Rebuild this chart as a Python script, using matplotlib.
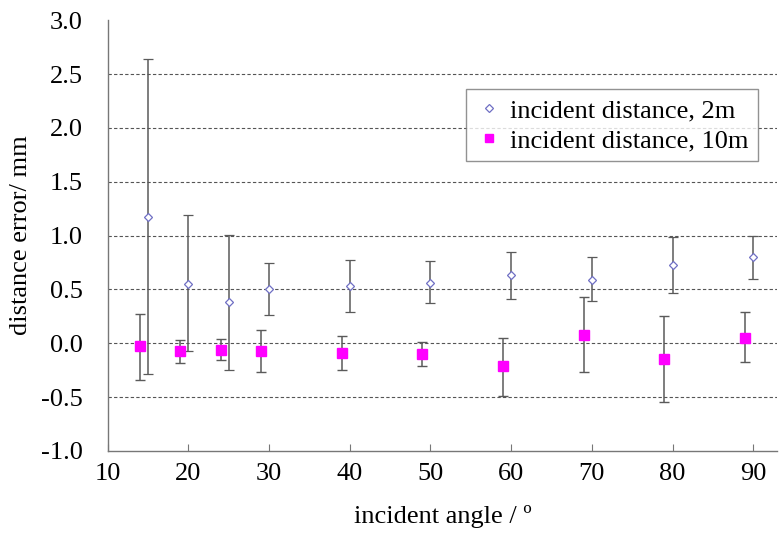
import matplotlib.pyplot as plt

# 2 m series
angulo_2m = [15, 20, 25, 30, 40, 50, 60, 70, 80, 90]
erro_2m = [1.17, 0.55, 0.38, 0.50, 0.53, 0.56, 0.63, 0.59, 0.73, 0.80]
topo_2m = [2.64, 1.19, 1.01, 0.75, 0.77, 0.76, 0.85, 0.80, 0.99, 1.00]
base_2m = [-0.29, -0.07, -0.25, 0.26, 0.29, 0.37, 0.41, 0.39, 0.47, 0.60]

# 10 m series
angulo_10m = [14, 19, 24, 29, 39, 49, 59, 69, 79, 89]
erro_10m = [-0.03, -0.07, -0.06, -0.07, -0.09, -0.10, -0.21, 0.08, -0.15, 0.05]
topo_10m = [0.27, 0.03, 0.04, 0.12, 0.07, 0.01, 0.05, 0.43, 0.25, 0.29]
base_10m = [-0.34, -0.18, -0.16, -0.27, -0.25, -0.21, -0.49, -0.27, -0.55, -0.17]

yticks = [-1.0, -0.5, 0.0, 0.5, 1.0, 1.5, 2.0, 2.5, 3.0]
xticks = [10, 20, 30, 40, 50, 60, 70, 80, 90]

plt.rcParams['font.family'] = ['Liberation Serif', 'DejaVu Serif']


def barras(valores, topo, base):
    inf = [v - b for v, b in zip(valores, base)]
    sup = [t - v for v, t in zip(valores, topo)]
    return [inf, sup]


fig = plt.figure(figsize=(7.79, 5.33), dpi=100)
ax = fig.add_axes([0.138, 0.154, 0.86, 0.808])

c2 = ax.errorbar(angulo_2m, erro_2m, yerr=barras(erro_2m, topo_2m, base_2m),
                 fmt='D', ms=4.5, mfc='white', mec='#6f6fc4', mew=0.9,
                 ecolor='#5a5a5a', elinewidth=1.1, capsize=3.5, capthick=1.0,
                 zorder=3)
c10 = ax.errorbar(angulo_10m, erro_10m, yerr=barras(erro_10m, topo_10m, base_10m),
                  fmt='s', ms=7, mfc='#ff00ff', mec='#ff00ff',
                  ecolor='#5a5a5a', elinewidth=1.1, capsize=3.5, capthick=1.0,
                  zorder=3)

ax.set_xlim(10, 93)
ax.set_ylim(-1.0, 3.0)
ax.set_xticks(xticks)
ax.set_yticks(yticks)
ax.set_yticklabels([f'{v:.1f}' for v in yticks])
ax.tick_params(axis='both', labelsize=19, direction='in', length=5, color='#777777')
ax.tick_params(axis='x', pad=9)
ax.tick_params(axis='y', length=0, pad=18)

ax.grid(axis='y', linestyle=(0, (3, 2)), color='#555555', linewidth=0.8)
ax.get_ygridlines()[-1].set_visible(False)
ax.get_ygridlines()[0].set_visible(False)
ax.set_axisbelow(True)

for lado in ['top', 'right']:
    ax.spines[lado].set_visible(False)
for lado in ['left', 'bottom']:
    ax.spines[lado].set_color('#777777')
    ax.spines[lado].set_linewidth(1.0)

ax.set_xlabel('incident angle / º', fontsize=19, labelpad=14)
ax.set_ylabel('distance error/ mm', fontsize=19, labelpad=6)

leg = ax.legend([c2[0], c10[0]], ['incident distance, 2m', 'incident distance, 10m'],
                loc='upper right', bbox_to_anchor=(0.99, 0.87), fontsize=19,
                frameon=True, fancybox=False, edgecolor='#777777',
                handletextpad=0.3, handlelength=1.0, borderpad=0.35,
                labelspacing=0.25, markerscale=0.8)
leg.get_frame().set_linewidth(1.0)

fig.savefig('out.png', dpi=100)
